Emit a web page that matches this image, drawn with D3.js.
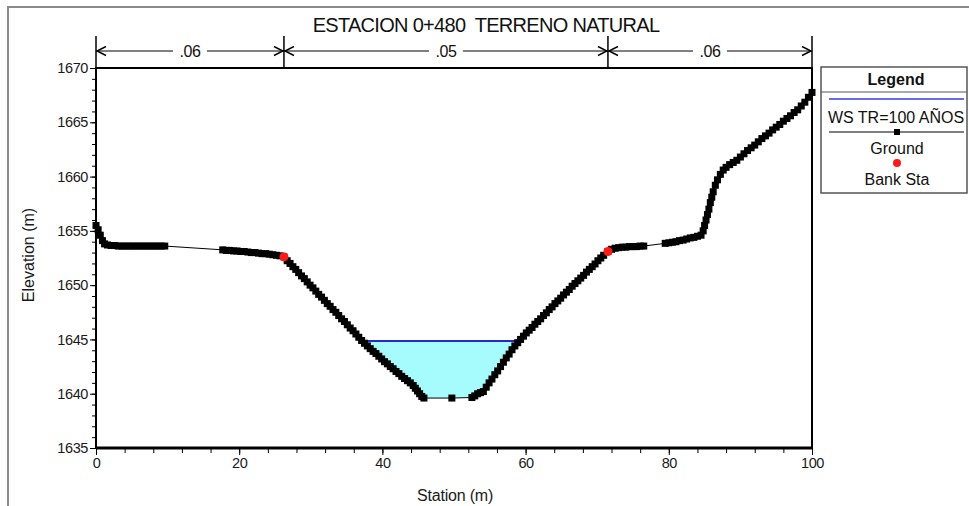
<!DOCTYPE html>
<html lang="en">
<head>
<meta charset="UTF-8">
<title>Estacion 0+480 Terreno Natural</title>
<style>
  body { margin: 0; background: #fff; font-family: 'Liberation Sans', Arial, sans-serif; }
  svg { display: block; }
  .tick text { font-size: 14.5px; letter-spacing: -0.4px; fill: #1a1a1a; font-family: 'Liberation Sans', Arial, sans-serif; }
  .axis path, .axis line { stroke: #000; }
  .title { white-space: pre; }
</style>
</head>
<body>
<script src="https://d3js.org/d3.v7.min.js"></script>
<script>
// ground survey points (station m, elevation m)
const stations = [
  0, 0.3, 0.6, 0.9, 1.2, 1.6, 2.1, 2.6, 3.1, 3.6, 4.1, 4.6, 5.1, 5.6, 6.1, 6.6, 7.1, 7.6, 8.1, 8.6, 9.1, 9.6,
  17.7, 18.2, 18.7, 19.2, 19.7, 20.2, 20.7, 21.2, 21.7, 22.2, 22.7, 23.2, 23.7, 24.2, 24.7, 25.2, 25.7, 26.25,
  26.7, 27.1, 27.5, 27.9, 28.3, 28.7, 29.1, 29.5, 29.9, 30.3, 30.7, 31.1, 31.5, 31.9, 32.3, 32.7, 33.1, 33.5,
  33.9, 34.3, 34.7, 35.1, 35.5, 35.9, 36.3, 36.7, 37.1, 37.5, 37.9, 38.3, 38.7, 39.1, 39.5, 39.9, 40.3, 40.7,
  41.1, 41.5, 41.9, 42.3, 42.7, 43.1, 43.5, 43.9, 44.3, 44.6, 44.9, 45.2, 45.5, 45.8,
  49.7, 52.5, 52.9, 53.3, 53.7, 54.1, 54.5, 54.9, 55.3, 55.7, 56.1, 56.5, 56.9, 57.3, 57.7, 58.1, 58.5, 58.9,
  59.3, 59.7, 60.1, 60.5, 60.9, 61.3, 61.7, 62.1, 62.5, 62.9, 63.3, 63.7, 64.1, 64.5, 64.9, 65.3, 65.7, 66.1,
  66.5, 66.9, 67.3, 67.7, 68.1, 68.5, 68.9, 69.3, 69.7, 70.1, 70.5, 70.9, 71.5,
  72.0, 72.5, 73.0, 73.5, 74.0, 74.5, 75.0, 75.5, 76.0, 76.5,
  79.5, 80.0, 80.5, 81.0, 81.5, 82.0, 82.5, 83.0, 83.5, 84.0, 84.5,
  84.8, 85.0, 85.2, 85.4, 85.6, 85.8, 86.0, 86.2, 86.5, 86.8, 87.2, 87.6, 88.0, 88.5, 89.0, 89.5, 90.0, 90.5,
  91.0, 91.5, 92.0, 92.5, 93.0, 93.5, 94.0, 94.5, 95.0, 95.5, 96.0, 96.5, 97.0, 97.5, 98.0, 98.5, 99.0, 99.5, 100
];
const elevations = [
  1655.5, 1655.1, 1654.6, 1654.1, 1653.8, 1653.7, 1653.65, 1653.65, 1653.6, 1653.6, 1653.6, 1653.6, 1653.6, 1653.6, 1653.6, 1653.6, 1653.6, 1653.6, 1653.6, 1653.6, 1653.6, 1653.6,
  1653.25, 1653.2, 1653.2, 1653.15, 1653.15, 1653.1, 1653.1, 1653.05, 1653.0, 1653.0, 1652.95, 1652.9, 1652.9, 1652.85, 1652.8, 1652.75, 1652.7, 1652.6,
  1652.25, 1652.0, 1651.7, 1651.45, 1651.15, 1650.85, 1650.6, 1650.3, 1650.0, 1649.75, 1649.45, 1649.15, 1648.9, 1648.6, 1648.3, 1648.05, 1647.75, 1647.5,
  1647.2, 1646.9, 1646.65, 1646.35, 1646.05, 1645.8, 1645.5, 1645.2, 1644.9, 1644.65, 1644.4, 1644.15, 1643.9, 1643.7, 1643.45, 1643.2, 1642.95, 1642.75,
  1642.5, 1642.3, 1642.05, 1641.85, 1641.6, 1641.4, 1641.2, 1641.0, 1640.75, 1640.5, 1640.25, 1640.0, 1639.75, 1639.6,
  1639.6, 1639.65, 1639.8, 1640.0, 1640.1, 1640.2, 1640.6, 1641.0, 1641.35, 1641.75, 1642.1, 1642.5, 1642.9, 1643.3, 1643.65, 1644.05, 1644.4, 1644.7,
  1645.0, 1645.3, 1645.6, 1645.85, 1646.1, 1646.4, 1646.65, 1646.9, 1647.2, 1647.45, 1647.75, 1648.0, 1648.3, 1648.55, 1648.8, 1649.1, 1649.35, 1649.6,
  1649.9, 1650.15, 1650.4, 1650.65, 1650.9, 1651.2, 1651.45, 1651.7, 1651.95, 1652.25, 1652.5, 1652.75, 1653.1,
  1653.3, 1653.4, 1653.45, 1653.5, 1653.5, 1653.55, 1653.55, 1653.55, 1653.6, 1653.6,
  1653.85, 1653.9, 1653.95, 1654.0, 1654.1, 1654.15, 1654.25, 1654.35, 1654.4, 1654.5, 1654.6,
  1655.0, 1655.5, 1656.0, 1656.5, 1657.0, 1657.6, 1658.1, 1658.6, 1659.2, 1659.7, 1660.2, 1660.6, 1660.85, 1661.1, 1661.3, 1661.5, 1661.8, 1662.1,
  1662.4, 1662.65, 1662.9, 1663.2, 1663.5, 1663.75, 1664.0, 1664.3, 1664.55, 1664.8, 1665.1, 1665.35, 1665.6, 1665.9, 1666.15, 1666.5, 1666.85, 1667.3, 1667.75
];

const bankStations = [26.25, 71.5];
const bankElevations = [1652.6, 1653.1];
const wsElevation = 1644.86;

// Manning n regions along the top
const nBreaks = [0, 26.25, 71.5, 100];
const nLabels = [".06", ".05", ".06"];

const xTicks = [0, 20, 40, 60, 80, 100];
const yTicks = [1635, 1640, 1645, 1650, 1655, 1660, 1665, 1670];

const legendItems = ["WS TR=100 AÑOS", "Ground", "Bank Sta"];

const W = 969, H = 506;
const plot = { left: 96, right: 812, top: 68, bottom: 448 };

const svg = d3.select("body").append("svg")
    .attr("width", W)
    .attr("height", H);

// outer frame (gray, cut at right/bottom)
svg.append("path")
    .attr("d", `M8,${H} V7 H${W}`)
    .attr("fill", "none")
    .attr("stroke", "#8a8a8a")
    .attr("stroke-width", 2);

const x = d3.scaleLinear().domain([0, 100]).range([plot.left, plot.right]);
const y = d3.scaleLinear().domain([1635, 1670]).range([plot.bottom, plot.top]);

const ground = stations.map((s, i) => ({ s: s, e: elevations[i] }));

// water fill
const area = d3.area()
    .x(d => x(d.s))
    .y0(y(wsElevation))
    .y1(d => y(Math.min(d.e, wsElevation)));
svg.append("path")
    .datum(ground)
    .attr("d", area)
    .attr("fill", "#a6fcfc");

// water surface line, from crossing to crossing
let wsLeft = null, wsRight = null;
for (let i = 1; i < ground.length; i++) {
  const a = ground[i - 1], b = ground[i];
  if (a.e > wsElevation && b.e <= wsElevation && wsLeft === null)
    wsLeft = a.s + (b.s - a.s) * (a.e - wsElevation) / (a.e - b.e);
  if (a.e <= wsElevation && b.e > wsElevation)
    wsRight = a.s + (b.s - a.s) * (wsElevation - a.e) / (b.e - a.e);
}
svg.append("line")
    .attr("x1", x(wsLeft)).attr("x2", x(wsRight))
    .attr("y1", y(wsElevation)).attr("y2", y(wsElevation))
    .attr("stroke", "#2727cc")
    .attr("stroke-width", 2);

// ground line + square markers
svg.append("path")
    .datum(ground)
    .attr("d", d3.line().x(d => x(d.s)).y(d => y(d.e)))
    .attr("fill", "none")
    .attr("stroke", "#000")
    .attr("stroke-width", 1);
svg.append("g").selectAll("rect")
    .data(ground)
    .enter().append("rect")
    .attr("x", d => x(d.s) - 3.5)
    .attr("y", d => y(d.e) - 3.5)
    .attr("width", 7)
    .attr("height", 7)
    .attr("fill", "#000");

// bank stations
svg.append("g").selectAll("circle")
    .data(bankStations)
    .enter().append("circle")
    .attr("cx", d => x(d))
    .attr("cy", (d, i) => y(bankElevations[i]))
    .attr("r", 4.5)
    .attr("fill", "#ff1a1a");

// plot frame
svg.append("rect")
    .attr("x", plot.left).attr("y", plot.top)
    .attr("width", plot.right - plot.left)
    .attr("height", plot.bottom - plot.top)
    .attr("fill", "none")
    .attr("stroke", "#000")
    .attr("stroke-width", 2);
svg.append("line")
    .attr("x1", plot.left).attr("x2", plot.right)
    .attr("y1", plot.bottom).attr("y2", plot.bottom)
    .attr("stroke", "#000").attr("stroke-width", 3);

// axes
const yAxis = svg.append("g").attr("class", "axis")
    .attr("transform", `translate(${plot.left},0)`)
    .call(d3.axisLeft(y).tickValues(yTicks).tickSize(6).tickPadding(2).tickFormat(d3.format("d")));
yAxis.select(".domain").remove();
svg.append("g").attr("class", "axis")
    .attr("transform", `translate(${plot.left},0)`)
    .call(d3.axisLeft(y).tickValues(d3.range(1635, 1671, 1)).tickSize(4).tickFormat(""))
    .select(".domain").remove();

const xAxis = svg.append("g").attr("class", "axis")
    .attr("transform", `translate(0,${plot.bottom})`)
    .call(d3.axisBottom(x).tickValues(xTicks).tickSize(7).tickPadding(3));
xAxis.select(".domain").remove();
svg.append("g").attr("class", "axis")
    .attr("transform", `translate(0,${plot.bottom})`)
    .call(d3.axisBottom(x).tickValues(d3.range(0, 101, 4)).tickSize(5).tickFormat(""))
    .select(".domain").remove();

svg.append("text")
    .attr("x", 455)
    .attr("y", 501)
    .attr("text-anchor", "middle")
    .attr("font-size", 16)
    .attr("letter-spacing", -0.2)
    .attr("fill", "#1a1a1a")
    .text("Station (m)");
svg.append("text")
    .attr("transform", `translate(34,255) rotate(-90)`)
    .attr("text-anchor", "middle")
    .attr("font-size", 16)
    .attr("fill", "#1a1a1a")
    .text("Elevation (m)");

// title
svg.append("text")
    .attr("class", "title")
    .attr("x", 486)
    .attr("y", 32)
    .attr("text-anchor", "middle")
    .attr("font-size", 20)
    .attr("letter-spacing", -0.7)
    .attr("fill", "#111")
    .text("ESTACION 0+480  TERRENO NATURAL");

// Manning n dimension lines
const dimY = 51;
const dim = svg.append("g").attr("stroke", "#000").attr("fill", "none");
nBreaks.forEach(s => {
  dim.append("line")
      .attr("x1", x(s)).attr("x2", x(s))
      .attr("y1", 36).attr("y2", plot.top)
      .attr("stroke-width", 1.5);
});
nLabels.forEach((lab, i) => {
  const x0 = x(nBreaks[i]), x1 = x(nBreaks[i + 1]), xm = (x0 + x1) / 2;
  dim.append("line").attr("x1", x0).attr("x2", xm - 17).attr("y1", dimY).attr("y2", dimY);
  dim.append("line").attr("x1", xm + 17).attr("x2", x1).attr("y1", dimY).attr("y2", dimY);
  dim.append("path").attr("d", `M${x0 + 10},${dimY - 4.5} L${x0 + 1},${dimY} L${x0 + 10},${dimY + 4.5}`).attr("stroke-width", 1.4);
  dim.append("path").attr("d", `M${x1 - 10},${dimY - 4.5} L${x1 - 1},${dimY} L${x1 - 10},${dimY + 4.5}`).attr("stroke-width", 1.4);
  svg.append("text")
      .attr("x", xm).attr("y", dimY + 6)
      .attr("text-anchor", "middle")
      .attr("font-size", 16)
      .attr("letter-spacing", -0.4)
      .attr("fill", "#111")
      .text(lab);
});

// legend
const lg = svg.append("g").attr("transform", "translate(821,67)");
lg.append("rect")
    .attr("x", 0).attr("y", 0).attr("width", 146).attr("height", 126)
    .attr("fill", "#fff").attr("stroke", "#555").attr("stroke-width", 1.5);
lg.append("text")
    .attr("x", 75).attr("y", 18)
    .attr("text-anchor", "middle")
    .attr("font-size", 16).attr("font-weight", "bold").attr("fill", "#111")
    .text("Legend");
lg.append("line").attr("x1", 0).attr("x2", 146).attr("y1", 25).attr("y2", 25)
    .attr("stroke", "#555").attr("stroke-width", 1);
lg.append("line").attr("x1", 8).attr("x2", 143).attr("y1", 32).attr("y2", 32)
    .attr("stroke", "#3a3aee").attr("stroke-width", 1.5);
lg.append("text").attr("x", 75).attr("y", 56).attr("text-anchor", "middle")
    .attr("font-size", 16).attr("fill", "#111").text(legendItems[0]);
lg.append("line").attr("x1", 8).attr("x2", 143).attr("y1", 65).attr("y2", 65)
    .attr("stroke", "#000").attr("stroke-width", 1);
lg.append("rect").attr("x", 73).attr("y", 62).attr("width", 6).attr("height", 6).attr("fill", "#000");
lg.append("text").attr("x", 76).attr("y", 87).attr("text-anchor", "middle")
    .attr("font-size", 16).attr("fill", "#111").text(legendItems[1]);
lg.append("circle").attr("cx", 76).attr("cy", 96).attr("r", 4).attr("fill", "#ff1a1a");
lg.append("text").attr("x", 76).attr("y", 118).attr("text-anchor", "middle")
    .attr("font-size", 16).attr("fill", "#111").text(legendItems[2]);
</script>
</body>
</html>
